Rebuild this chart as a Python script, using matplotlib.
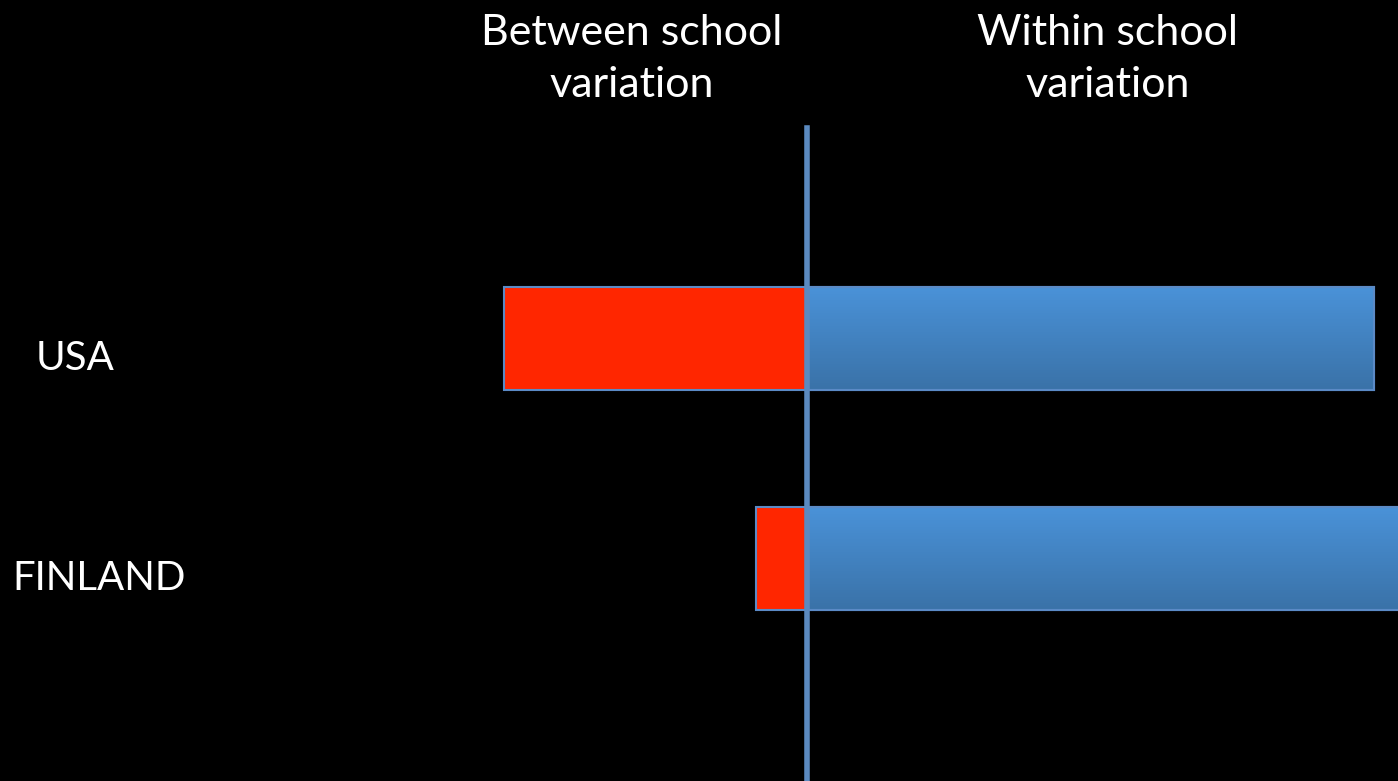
import numpy as np
import matplotlib
matplotlib.use("Agg")
import matplotlib.pyplot as plt
from matplotlib.colors import LinearSegmentedColormap

countries = ["USA", "FINLAND"]
between = [30.3, 5.1]   # share of variation between schools (drawn to the left)
within = [56.7, 62.0]   # share of variation within schools (drawn to the right)

plt.rcParams['font.family'] = ['Lato', 'DejaVu Sans']

fig = plt.figure(figsize=(13.98, 7.81), dpi=100, facecolor="black")
ax = fig.add_axes([0, 0, 1, 1])
ax.set_facecolor("black")
ax.axis("off")

ypos = np.arange(len(countries))
h = 0.468
edge = "#5b8ac6"

ax.barh(ypos, [-b for b in between], height=h, color="#ff2600",
        edgecolor=edge, linewidth=1.5, zorder=2)
blue = ax.barh(ypos, within, height=h, color="#4a90d6",
               edgecolor=edge, linewidth=1.5, zorder=2)

# vertical gradient on the blue bars
grad = LinearSegmentedColormap.from_list("g", ["#4a92d8", "#3a72a8"])
for bar in blue:
    x0, y0 = bar.get_x(), bar.get_y()
    w, hh = bar.get_width(), bar.get_height()
    im = ax.imshow(np.linspace(0, 1, 100).reshape(-1, 1), cmap=grad,
                   extent=[x0, x0 + w, y0 + hh, y0], aspect="auto", zorder=2.5)
    im.set_clip_path(bar)
    ax.add_patch(plt.Rectangle((x0, y0), w, hh, fill=False,
                               edgecolor=edge, linewidth=1.5, zorder=2.6))

ax.axvline(0, ymin=0, ymax=1 - 128 / 781, color="#5b8ac0", linewidth=4, zorder=3)
ax.set_xlim(-80.7, 59.1)
ax.set_ylim(2.0114, -1.5386)

ax.text(-77.1, 0.09, countries[0], color="white", fontsize=29, ha="left", va="center")
ax.text(-79.5, 1.09, countries[1], color="white", fontsize=29, ha="left", va="center")

ax.text(-17.5, -1.27, "Between school\nvariation", color="white", fontsize=31,
        ha="center", va="center", linespacing=1.45)
ax.text(30.1, -1.27, "Within school\nvariation", color="white", fontsize=31,
        ha="center", va="center", linespacing=1.45)

fig.savefig("out.png", dpi=100, facecolor="black")
